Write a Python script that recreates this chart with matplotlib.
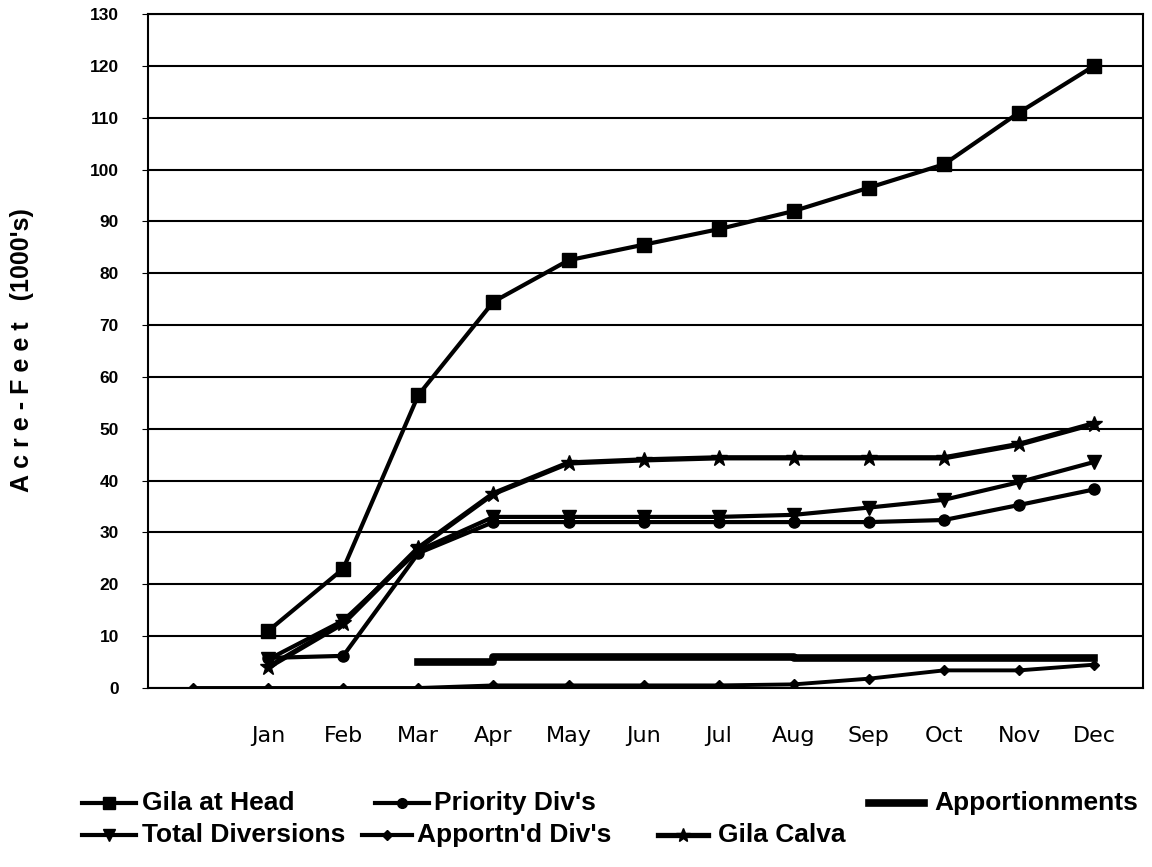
import matplotlib.pyplot as plt
from matplotlib.lines import Line2D

# categories (first slot is blank, as in the original sheet)
months = ["", "Jan", "Feb", "Mar", "Apr", "May", "Jun", "Jul", "Aug", "Sep", "Oct", "Nov", "Dec"]

# values in 1000's of acre-feet, None = no value for that month
gilaHead = [None, 11, 23, 56.5, 74.5, 82.5, 85.5, 88.5, 92, 96.5, 101, 111, 120]
priorityDiv = [None, 5.8, 6.2, 26, 32, 32, 32, 32, 32, 32, 32.4, 35.3, 38.3]
totalDiv = [None, 5.5, 13, 26.5, 33, 33, 33, 33, 33.4, 34.8, 36.3, 39.7, 43.6]
apportDiv = [0, 0, 0, 0, 0.5, 0.5, 0.5, 0.5, 0.7, 1.8, 3.4, 3.4, 4.5]
gilaCalva = [None, 4, 12.5, 27, 37.5, 43.4, 44, 44.4, 44.4, 44.4, 44.4, 47, 51]
apportionments = [None, None, None, 5, 6, 6, 6, 6, 5.7, 5.7, 5.7, 5.7, 5.7]

def clean(vals):
    xs = [i for i, v in enumerate(vals) if v is not None]
    ys = [v for v in vals if v is not None]
    return xs, ys

plt.rcParams['font.family'] = ['Liberation Sans', 'DejaVu Sans']

fig = plt.figure(figsize=(11.52, 8.67), dpi=100)
ax = fig.add_axes([148/1152, (867-688)/867, 995/1152, 674/867])

x, y = clean(gilaHead)
ax.plot(x, y, color="black", lw=3, marker="s", ms=10, zorder=5)
x, y = clean(priorityDiv)
ax.plot(x, y, color="black", lw=3, marker="o", ms=8, zorder=4)
x, y = clean(totalDiv)
ax.plot(x, y, color="black", lw=3, marker="v", ms=10, zorder=4)
x, y = clean(apportDiv)
ax.plot(x, y, color="black", lw=2.8, marker="D", ms=5, zorder=4)
x, y = clean(gilaCalva)
ax.plot(x, y, color="black", lw=3.8, marker="*", ms=12, zorder=4)
x, y = clean(apportionments)
ax.plot(x, y, color="black", lw=5.5, drawstyle="steps-post", zorder=3)

ax.set_xlim(-0.6, 12.65)
ax.set_ylim(0, 130)
ax.set_yticks(range(0, 131, 10))
ax.set_xticks(range(len(months)))
ax.set_xticklabels(months, family="DejaVu Sans", fontsize=16)
ax.tick_params(axis="x", length=0, pad=27)
ax.tick_params(axis="y", length=4, labelsize=12.5, pad=17)
for lab in ax.get_yticklabels():
    lab.set_fontweight("bold")
ax.grid(axis="y", color="black", lw=1.5)
ax.set_axisbelow(True)
for s in ax.spines.values():
    s.set_linewidth(1.5)

fig.text(0.019, (867-350)/867, "A c r e - F e e t   (1000's)", rotation=90,
         fontsize=18, fontweight="bold", ha="center", va="center")

# legend laid out by hand like the spreadsheet one: (name, marker, size, lw, line x0, x1, text x, y)
legendItems = [
    ("Gila at Head", "s", 9, 3, 82, 136, 142, 803),
    ("Priority Div's", "o", 7, 3, 375, 429, 434, 803),
    ("Apportionments", None, 0, 5.5, 869, 924, 934, 803),
    ("Total Diversions", "v", 9, 3, 82, 136, 142, 835),
    ("Apportn'd Div's", "D", 5, 3, 362, 412, 417, 835),
    ("Gila Calva", "*", 10, 3.8, 658, 708, 718, 835),
]
for name, mk, ms, lw, x0, x1, tx, py in legendItems:
    fy = (867 - py) / 867
    fig.add_artist(Line2D([x0/1152, x1/1152], [fy, fy], color="black", lw=lw))
    if mk:
        fig.add_artist(Line2D([(x0+x1)/2/1152], [fy], color="black", marker=mk, ms=ms))
    fig.text(tx/1152, fy, name, fontsize=19, fontweight="bold", va="center", ha="left")

fig.savefig("out.png", dpi=100)
